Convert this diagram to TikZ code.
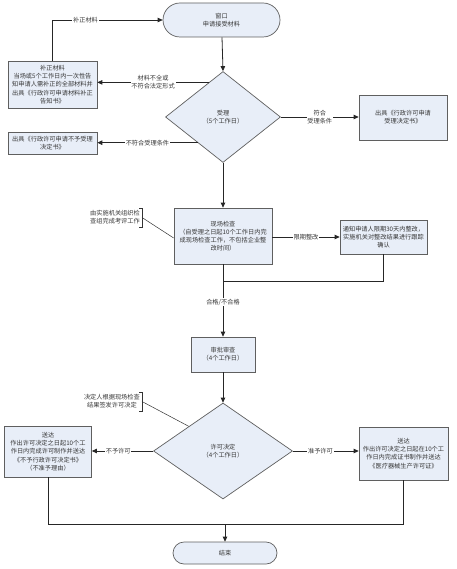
\documentclass[tikz,border=0pt]{standalone}
\usepackage{fontspec}
\newfontfamily\cjk{Noto Sans CJK SC}
\usetikzlibrary{shapes.geometric,arrows.meta,calc}
\definecolor{fillc}{RGB}{232,238,248}
\definecolor{linec}{RGB}{95,95,95}
\definecolor{txtc}{RGB}{55,55,55}
\begin{document}
\begin{tikzpicture}[x=1pt,y=-1pt,
  font=\cjk\fontsize{6.2pt}{8.2pt}\selectfont,
  text=txtc,
  box/.style={draw=linec,fill=fillc,line width=0.7pt,align=center,inner sep=1pt},
  term/.style={box,rounded corners=#1},
  dia/.style={draw=linec,fill=fillc,line width=0.7pt,diamond,align=center,inner sep=0pt},
  arr/.style={draw=black!85,line width=0.8pt,-{Triangle[length=5pt,width=4.5pt]}},
  ln/.style={draw=black!85,line width=0.8pt},
  lbl/.style={fill=white,inner sep=0.8pt,align=center,text=txtc},
  note/.style={align=center,inner sep=0pt,text=txtc},
  thin/.style={draw=black!80,line width=0.5pt}]
\useasboundingbox (0,0) rectangle (456,569);

\node[term=17pt,minimum width=117pt,minimum height=34pt] (start) at (221.5,20) {窗口\\申请接受材料};
\node[dia,minimum width=115pt,minimum height=91pt] (d1) at (223,117) {受理\\（5个工作日）};
\node[box,minimum width=89pt,minimum height=47pt] (b1) at (52.5,84.5) {补正材料\\当场或5个工作日内一次性告\\知申请人需补正的全部材料并\\出具《行政许可申请材料补正\\告知书》};
\node[box,minimum width=89pt,minimum height=22pt] (b2) at (52.5,143.5) {出具《行政许可申请不予受理\\决定书》};
\node[box,minimum width=88pt,minimum height=45pt] (r1) at (403,117.5) {出具《行政许可申请\\受理决定书》};
\node[box,minimum width=98pt,minimum height=56pt] (chk) at (223,236) {现场检查\\（自受理之日起10个工作日内完\\成现场检查工作，不包括企业整\\改时间）};
\node[box,minimum width=87pt,minimum height=34pt] (r3) at (383.5,237) {通知申请人限期30天内整改，\\实施机关对整改结果进行跟踪\\确认};
\node[box,minimum width=64pt,minimum height=35pt] (rev) at (223,354.5) {审批审查\\（4个工作日）};
\node[dia,minimum width=139pt,minimum height=96pt] (d2) at (223,451) {许可决定\\（4个工作日）};
\node[box,minimum width=87pt,minimum height=51pt] (l5) at (48,451.5) {送达\\作出许可决定之日起10个工\\作日内完成许可制作并送达\\《不予行政许可决定书》\\（不准予理由）};
\node[box,minimum width=89pt,minimum height=53pt] (r6) at (403.5,453.5) {送达\\作出许可决定之日起在10个工\\作日内完成证书制作并送达\\《医疗器械生产许可证》};
\node[term=11pt,minimum width=104pt,minimum height=22pt] (end) at (225,553) {结束};

% annotations
\node[note,anchor=east] (n1) at (140,217.5) {由实施机关组织检\\查组完成考评工作};
\node[note,anchor=east] (n2) at (140,401) {决定人根据现场检查\\结果签发许可决定};
\coordinate (n1a) at (142,208);
\coordinate (n1b) at (142,227);
\coordinate (n1m) at (142,217.5);
\coordinate (n2a) at (142,392);
\coordinate (n2b) at (142,411);
\coordinate (n2m) at (142,401.5);
\draw[thin] ($(n1a)+(-3,0)$) -- (n1a) -- (n1b) -- ($(n1b)+(-3,0)$);
\draw[thin] ($(n2a)+(-3,0)$) -- (n2a) -- (n2b) -- ($(n2b)+(-3,0)$);
\draw[thin] (n1m) -- (chk.west |- 0,238);
\coordinate (d2e) at ($(d2.north)!0.49!(d2.west)$);
\draw[thin] (n2m) -- (d2e);

% connectors
\draw[arr] (start) -- (d1.north);
\coordinate (c1) at ($(d1.north)!0.245!(d1.west)$);
\draw[arr] (c1) -- node[lbl,pos=0.5]{材料不全或\\不符合法定形式} (c1 -| b1.east);
\draw[arr] (b1.north) |- node[lbl,pos=0.65]{补正材料} (start.west);
\coordinate (c2) at ($(d1.west)!0.56!(d1.south)$);
\draw[arr] (c2) -- node[lbl,pos=0.5]{不符合受理条件} (c2 -| b2.east);
\draw[arr] (d1.east) -- node[lbl]{符合\\受理条件} (r1.west |- d1.east);
\draw[arr] (d1.south) -- (chk.north);
\draw[arr] (chk.east |- r3.west) -- node[lbl]{限期整改} (r3.west);
\coordinate (m1) at (223,281);
\draw[ln] (r3.south) |- (m1);
\draw[arr] (chk.south) -- node[lbl,pos=0.52]{合格/不合格} (rev.north);
\draw[arr] (rev.south) -- (d2.north);
\draw[arr] (d2.west) -- node[lbl,pos=0.57]{不予许可} (l5.east |- d2.west);
\draw[arr] (d2.east) -- node[lbl,pos=0.42]{准予许可} (r6.west |- d2.east);
\coordinate (yl) at (0,524);
\coordinate (j) at (end.north |- yl);
\draw[ln] (l5.south) -- (l5.south |- yl) -- (r6.south |- yl) -- (r6.south);
\draw[arr] (j) -- (end.north);
\end{tikzpicture}
\end{document}
